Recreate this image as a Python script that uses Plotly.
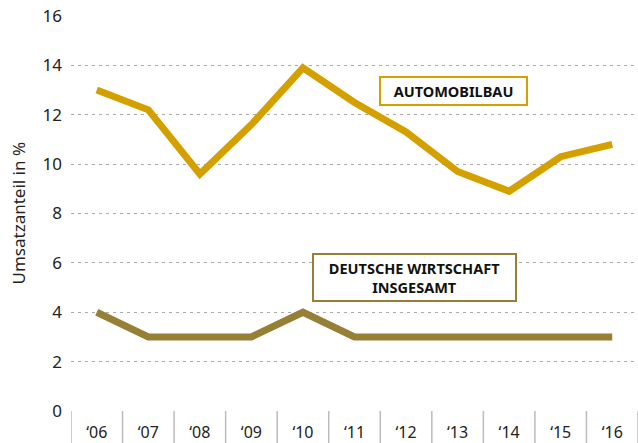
import plotly.graph_objects as go

# Years and shares of turnover (%)
years = ["‘06", "‘07", "‘08", "‘09", "‘10", "‘11", "‘12", "‘13", "‘14", "‘15", "‘16"]
automobilbau = [13.0, 12.2, 9.6, 11.6, 13.9, 12.5, 11.3, 9.7, 8.9, 10.3, 10.8]
wirtschaft = [4, 3, 3, 3, 4, 3, 3, 3, 3, 3, 3]
y_ticks = [0, 2, 4, 6, 8, 10, 12, 14, 16]

GOLD = "#D4A000"
OLIVE = "#977F36"
FONT = "Noto Sans"

W, H = 638, 443
M_L, M_R, M_T, M_B = 71, 0, 16, 32
plot_w = W - M_L - M_R
plot_h = H - M_T - M_B

fig = go.Figure()
fig.add_trace(go.Scatter(x=years, y=automobilbau, mode="lines",
                         line=dict(color=GOLD, width=7), showlegend=False))
fig.add_trace(go.Scatter(x=years, y=wirtschaft, mode="lines",
                         line=dict(color=OLIVE, width=7), showlegend=False))

# Category separators below the baseline
for i in range(len(years) + 1):
    fig.add_shape(type="line", xref="x", yref="paper",
                  x0=i - 0.5, x1=i - 0.5, y0=-M_B / plot_h, y1=0,
                  line=dict(color="#BBBBBB", width=1.5))


def px_x(px):
    return (px - M_L) / plot_w


def px_y(py):
    return (H - M_B - py) / plot_h


label_font = dict(family=FONT, size=14.5, color="#111111")

fig.add_annotation(xref="paper", yref="paper", x=px_x(453.5), y=px_y(91),
                   xanchor="center", yanchor="middle",
                   text="<b>AUTOMOBILBAU</b>", showarrow=False,
                   font=label_font,
                   bgcolor="white", bordercolor=GOLD, borderwidth=2,
                   width=143, height=24, borderpad=1)
fig.add_annotation(xref="paper", yref="paper", x=px_x(414.5), y=px_y(277.5),
                   xanchor="center", yanchor="middle",
                   text="<b>DEUTSCHE WIRTSCHAFT<br>INSGESAMT</b>", showarrow=False,
                   font=label_font,
                   bgcolor="white", bordercolor=OLIVE, borderwidth=2,
                   width=199, height=43, borderpad=1)

fig.add_annotation(xref="paper", yref="paper", x=px_x(18), y=px_y(213.5),
                   xanchor="center", yanchor="middle",
                   text="Umsatzanteil in %", textangle=-90, showarrow=False,
                   font=dict(family=FONT, size=17, color="#222222"))

fig.update_layout(
    width=W, height=H,
    margin=dict(l=M_L, r=M_R, t=M_T, b=M_B),
    paper_bgcolor="white", plot_bgcolor="white",
    font=dict(family=FONT, color="#222222"),
    xaxis=dict(type="category", range=[-0.5, len(years) - 0.5],
               showgrid=False, zeroline=False, showline=False,
               ticks="", tickfont=dict(size=16, color="#222222"),
               ticklabelstandoff=10),
    yaxis=dict(range=[0, 16], tickvals=y_ticks, showgrid=True,
               gridcolor="#AAAAAA", gridwidth=1, griddash="3px,4px",
               zeroline=False, showline=False, ticks="",
               tickfont=dict(size=17, color="#222222"),
               ticklabelstandoff=8),
)

fig.write_html("out.html")
